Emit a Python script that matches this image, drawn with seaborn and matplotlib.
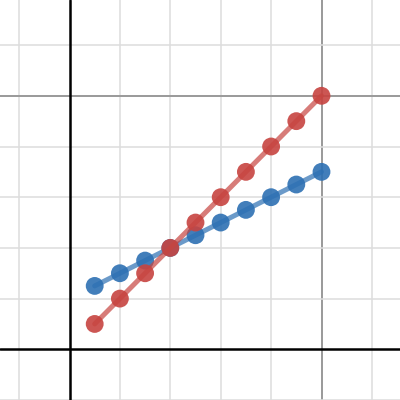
import matplotlib
matplotlib.use("Agg")
import matplotlib.pyplot as plt
import seaborn as sns
import pandas as pd
import numpy as np

x_values = [0.5, 1.0, 1.5, 2.0, 2.5, 3.0, 3.5, 4.0, 4.5, 5.0]
blue_values = [1.25, 1.5, 1.75, 2.0, 2.25, 2.5, 2.75, 3.0, 3.25, 3.5]
red_values = [0.5, 1.0, 1.5, 2.0, 2.5, 3.0, 3.5, 4.0, 4.5, 5.0]

BLUE = "#2d70b3"
RED = "#c74440"

sns.set_theme(style="white")
fig = plt.figure(figsize=(4, 4), dpi=100)
ax = fig.add_axes([0, 0, 1, 1])

xmin, xmax = -69.5 / 50.4, 330.5 / 50.4
ymin, ymax = -50.7 / 50.7, 349.3 / 50.7
ax.set_xlim(xmin, xmax)
ax.set_ylim(ymin, ymax)

# grid
for gx in range(-1, 7):
    if gx == 0:
        continue
    major = gx % 5 == 0
    ax.axvline(gx, color="#999999" if major else "#dddddd", lw=1.4 if major else 1.1, zorder=0)
for gy in range(-1, 7):
    if gy == 0:
        continue
    major = gy % 5 == 0
    ax.axhline(gy, color="#999999" if major else "#dddddd", lw=1.4 if major else 1.1, zorder=0)
ax.axvline(0, color="black", lw=1.8, zorder=1)
ax.axhline(0, color="black", lw=1.8, zorder=1)

df_b = pd.DataFrame({"x": x_values, "y": blue_values})
df_r = pd.DataFrame({"x": x_values, "y": red_values})

sns.lineplot(data=df_b, x="x", y="y", ax=ax, color=BLUE, lw=3.6, alpha=0.7, zorder=2)
sns.scatterplot(data=df_b, x="x", y="y", ax=ax, color=BLUE, s=165, alpha=0.9, edgecolor="none", zorder=3)
sns.lineplot(data=df_r, x="x", y="y", ax=ax, color=RED, lw=3.6, alpha=0.7, zorder=4)
sns.scatterplot(data=df_r, x="x", y="y", ax=ax, color=RED, s=165, alpha=0.9, edgecolor="none", zorder=5)

ax.set_xlim(xmin, xmax)
ax.set_ylim(ymin, ymax)
ax.set_xlabel("")
ax.set_ylabel("")
ax.set_xticks([])
ax.set_yticks([])
for s in ax.spines.values():
    s.set_visible(False)

fig.savefig("out.png", dpi=100)
